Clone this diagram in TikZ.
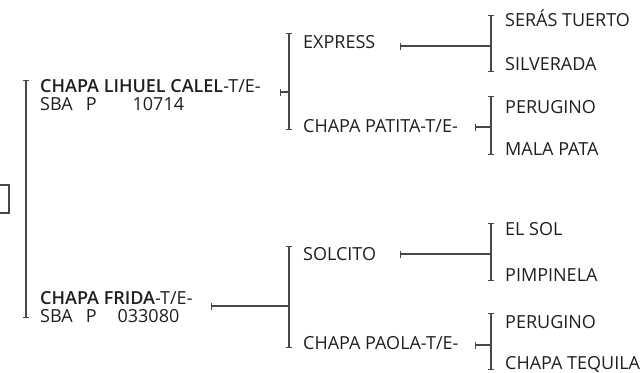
\documentclass[tikz,border=0pt]{standalone}
\usepackage{fontspec}
\setmainfont{Open Sans}[BoldFont={Open Sans Semibold}]
\usetikzlibrary{arrows.meta}
\begin{document}
\begin{tikzpicture}[x=1pt,y=-1pt,
  horse/.style={anchor=base west, inner sep=0pt, text=black!88, font=\fontsize{18}{20}\selectfont},
  bracket/.style={draw=black!72, line width=1.3pt, {Bar[width=6pt]}-{Bar[width=6pt]}},
  link/.style={draw=black!72, line width=1.3pt, {Bar[width=7pt]}-}]
\useasboundingbox (0,0) rectangle (642,372);
% root, cut at the left edge
\node[draw=black!72, line width=1.3pt, minimum width=24pt, minimum height=28pt, inner sep=0pt] (root) at (-3,199) {};
% first generation
\node[horse] (lihuel) at (40,92) {\textbf{CHAPA LIHUEL CALEL}-T/E-};
\node[horse] (lihuel-reg) at (40,110) {SBA\hspace{13pt}P\hspace{36pt}10714};
\node[horse] (frida) at (40,304) {\textbf{CHAPA FRIDA}-T/E-};
\node[horse] (frida-reg) at (40,322) {SBA\hspace{13pt}P\hspace{21pt}033080};
\coordinate (b1-top) at (26,80);
\coordinate (b1-bot) at (26,318);
\draw[bracket] (b1-top) -- (b1-bot);
% second generation
\node[horse] (express) at (303,48) {EXPRESS};
\node[horse] (patita) at (303,132) {CHAPA PATITA-T/E-};
\node[horse] (solcito) at (303,260) {SOLCITO};
\node[horse] (paola) at (303,349) {CHAPA PAOLA-T/E-};
\coordinate (b2a-top) at (289,33);
\coordinate (b2a-bot) at (289,130);
\coordinate (b2b-top) at (289,246);
\coordinate (b2b-bot) at (289,348);
\draw[bracket] (b2a-top) -- (b2a-bot);
\draw[bracket] (b2b-top) -- (b2b-bot);
\coordinate (lihuel-out) at (280,92);
\coordinate (frida-out) at (211,306);
\draw[link] (lihuel-out) -- (lihuel-out -| b2a-top);
\draw[link] (frida-out) -- (frida-out -| b2b-top);
% third generation
\node[horse] (tuerto) at (505,27) {SERÁS TUERTO};
\node[horse] (silverada) at (505,70) {SILVERADA};
\node[horse] (perugino-a) at (505,113) {PERUGINO};
\node[horse] (malapata) at (505,155) {MALA PATA};
\node[horse] (elsol) at (505,235) {EL SOL};
\node[horse] (pimpinela) at (505,281) {PIMPINELA};
\node[horse] (perugino-b) at (505,328) {PERUGINO};
\node[horse] (tequila) at (505,369) {CHAPA TEQUILA};
\coordinate (b3a-top) at (491,15);
\coordinate (b3a-bot) at (491,72);
\coordinate (b3b-top) at (491,96);
\coordinate (b3b-bot) at (491,155);
\coordinate (b3c-top) at (491,223);
\coordinate (b3c-bot) at (491,281);
\coordinate (b3d-top) at (491,313);
\coordinate (b3d-bot) at (491,370);
\draw[bracket] (b3a-top) -- (b3a-bot);
\draw[bracket] (b3b-top) -- (b3b-bot);
\draw[bracket] (b3c-top) -- (b3c-bot);
\draw[bracket] (b3d-top) -- (b3d-bot);
\coordinate (express-out) at (400,46);
\coordinate (patita-out) at (475,127);
\coordinate (solcito-out) at (400,254);
\coordinate (paola-out) at (475,345);
\draw[link] (express-out) -- (express-out -| b3a-top);
\draw[link] (patita-out) -- (patita-out -| b3b-top);
\draw[link] (solcito-out) -- (solcito-out -| b3c-top);
\draw[link] (paola-out) -- (paola-out -| b3d-top);
\end{tikzpicture}
\end{document}
